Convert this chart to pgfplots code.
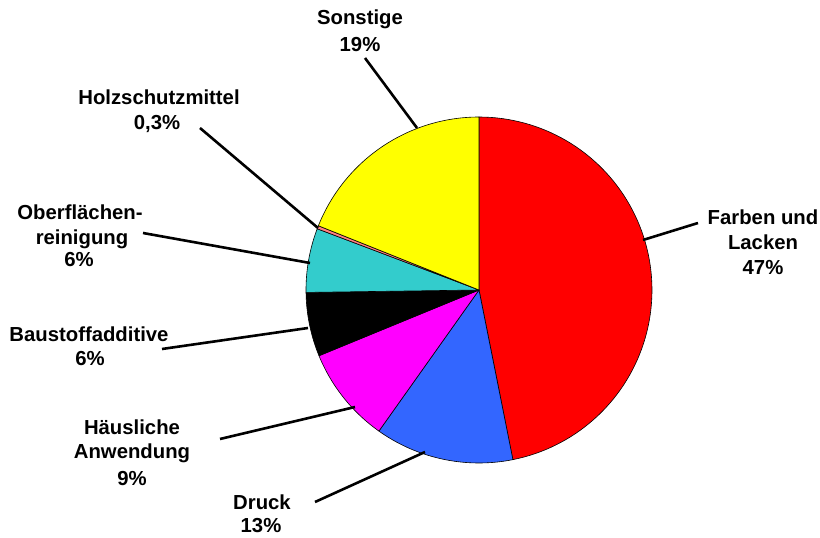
\documentclass[border=0pt]{standalone}
\usepackage{pgfplots}
\pgfplotsset{compat=1.18}
\usepackage{fontspec}
\setmainfont{Liberation Sans}
\definecolor{cRed}{HTML}{FF0000}
\definecolor{cBlue}{HTML}{3366FF}
\definecolor{cMag}{HTML}{FF00FF}
\definecolor{cBlack}{HTML}{000000}
\definecolor{cCyan}{HTML}{33CCCC}
\definecolor{cHolz}{HTML}{FF8080}
\definecolor{cYel}{HTML}{FFFF00}
\tikzset{lbl/.style={font=\fontsize{20.3}{24}\selectfont\bfseries, anchor=base, inner sep=0pt}}
% shares in percent (Farben, Druck, Haeuslich, Baustoff, Oberflaeche, Holz, Sonstige)
\pgfmathsetmacro\tot{47+13+9+6+6+0.3+19}
\newcommand\cx{479}
\newcommand\cy{248}
\newcommand\rr{173}
% #1 cumulative share before slice, #2 share, #3 colour
\newcommand\slice[3]{%
  \addplot[fill=#3, draw=black, line width=0.6pt, domain={90-(#1+#2)*360/\tot}:{90-(#1)*360/\tot}, samples=90, line join=round]
    ({\cx+\rr*cos(x)},{\cy+\rr*sin(x)}) -- (\cx,\cy) -- cycle;}
\begin{document}
\begin{tikzpicture}
\begin{axis}[width=820pt, height=538pt, scale only axis, xmin=0, xmax=820, ymin=0, ymax=538, hide axis, clip=false]
\path[draw=none] (rel axis cs:0,0) rectangle (rel axis cs:1,1);
\slice{0}{47}{cRed}
\slice{47}{13}{cBlue}
\slice{60}{9}{cMag}
\slice{69}{6}{cBlack}
\slice{75}{6}{cCyan}
\slice{81}{0.3}{cHolz}
\slice{81.3}{19}{cYel}
% leader lines
\addplot[black, line width=2.6pt] coordinates {(365,480) (417,410)};
\addplot[black, line width=2.6pt] coordinates {(200,410) (318,310)};
\addplot[black, line width=2.6pt] coordinates {(143,305) (310,275)};
\addplot[black, line width=2.6pt] coordinates {(162,189) (308,210)};
\addplot[black, line width=2.6pt] coordinates {(220,99) (355,131)};
\addplot[black, line width=2.6pt] coordinates {(315,36) (425,86)};
\addplot[black, line width=2.6pt] coordinates {(698,315) (643,298)};
% labels
\node[lbl] at (axis cs:360,513) {Sonstige};
\node[lbl] at (axis cs:360,486) {19\%};
\node[lbl] at (axis cs:159,433) {Holzschutzmittel};
\node[lbl] at (axis cs:157,408) {0,3\%};
\node[lbl] at (axis cs:80,318) {Oberflächen-};
\node[lbl] at (axis cs:82,293) {reinigung};
\node[lbl] at (axis cs:79,271) {6\%};
\node[lbl] at (axis cs:89,196) {Baustoffadditive};
\node[lbl] at (axis cs:90,172) {6\%};
\node[lbl] at (axis cs:132,103) {Häusliche};
\node[lbl] at (axis cs:132,79) {Anwendung};
\node[lbl] at (axis cs:132,52) {9\%};
\node[lbl] at (axis cs:262,28) {Druck};
\node[lbl] at (axis cs:261,5) {13\%};
\node[lbl] at (axis cs:763,313) {Farben und};
\node[lbl] at (axis cs:763,288) {Lacken};
\node[lbl] at (axis cs:763,263) {47\%};
\end{axis}
\end{tikzpicture}
\end{document}
